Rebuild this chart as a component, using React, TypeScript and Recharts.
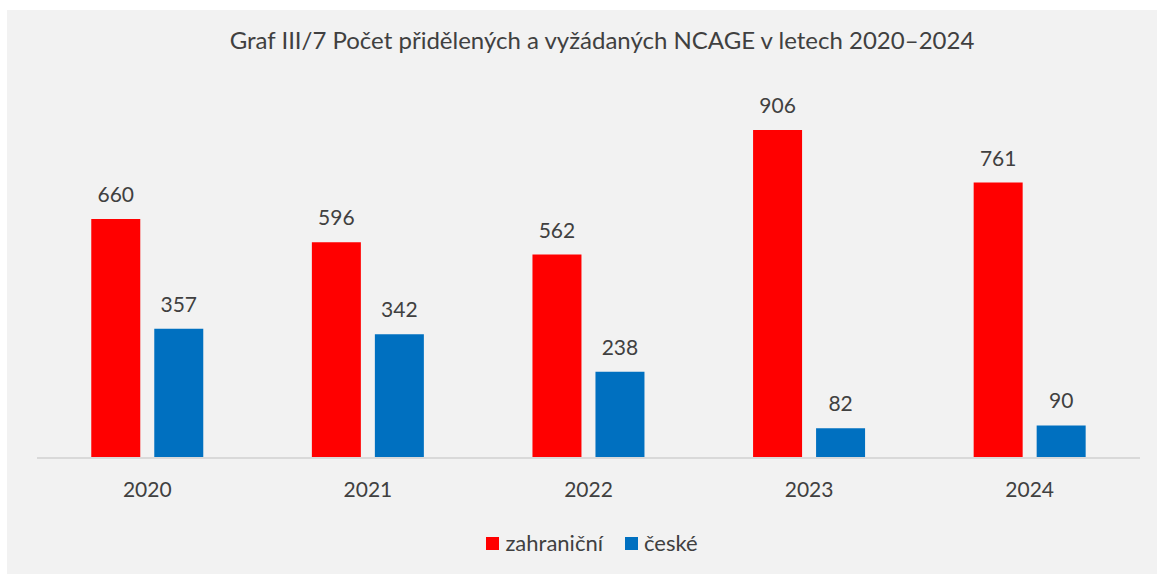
import { BarChart, Bar, XAxis, YAxis, Legend, LabelList } from 'recharts';

const years = ['2020', '2021', '2022', '2023', '2024'];
const foreign = [660, 596, 562, 906, 761];
const czech = [357, 342, 238, 82, 90];

const data = years.map((year, i) => ({
  year,
  zahranicni: foreign[i],
  ceske: czech[i],
}));

const FONT = 'Lato, "Open Sans", sans-serif';
const TEXT = '#404040';

function LegendBox() {
  const items = [
    { name: 'zahraniční', color: '#FF0000' },
    { name: 'české', color: '#0070C0' },
  ];
  return (
    <div style={{ display: 'flex', justifyContent: 'center', gap: 22, paddingLeft: 7, fontFamily: FONT, fontSize: 22, color: TEXT, lineHeight: '26px' }}>
      {items.map(it => (
        <div key={it.name} style={{ display: 'flex', alignItems: 'center' }}>
          <span style={{ width: 13, height: 13, background: it.color, display: 'inline-block', marginRight: 6 }} />
          <span>{it.name}</span>
        </div>
      ))}
    </div>
  );
}

export default function App() {
  return (
    <div style={{ position: 'absolute', left: 7, top: 10, width: 1150, height: 564, background: '#F2F2F2' }}>
      <div style={{ position: 'absolute', top: 15, left: 40, right: 0, textAlign: 'center', fontFamily: FONT, fontSize: 24, color: TEXT }}>
        Graf III/7 Počet přidělených a vyžádaných NCAGE v letech 2020–2024
      </div>
      <BarChart
        width={1150}
        height={564}
        data={data}
        margin={{ top: 86, right: 17, left: 30, bottom: 18 }}
        barGap={14}
        barCategoryGap="24.6%"
      >
        <XAxis
          dataKey="year"
          axisLine={{ stroke: '#D9D9D9', strokeWidth: 2 }}
          tickLine={false}
          tickSize={0}
          tickMargin={24}
          height={72}
          tick={{ fill: TEXT, fontSize: 21, fontFamily: FONT }}
        />
        <YAxis hide domain={[0, 1000]} />
        <Legend verticalAlign="bottom" height={26} content={() => <LegendBox />} />
        <Bar dataKey="zahranicni" name="zahraniční" fill="#FF0000" isAnimationActive={false}>
          <LabelList dataKey="zahranicni" position="top" offset={17} fill={TEXT} fontSize={21} fontFamily={FONT} />
        </Bar>
        <Bar dataKey="ceske" name="české" fill="#0070C0" isAnimationActive={false}>
          <LabelList dataKey="ceske" position="top" offset={17} fill={TEXT} fontSize={21} fontFamily={FONT} />
        </Bar>
      </BarChart>
    </div>
  );
}
